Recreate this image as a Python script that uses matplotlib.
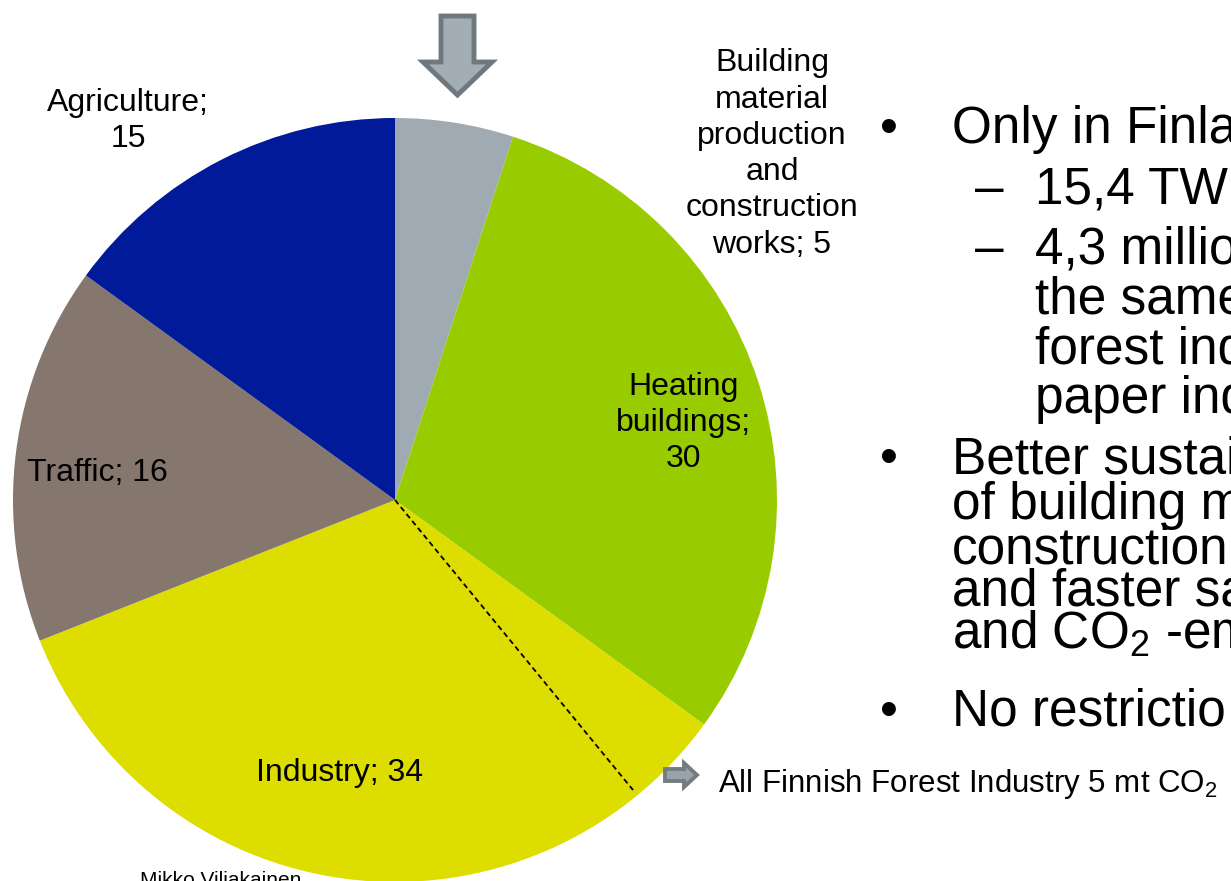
import numpy as np
import matplotlib
matplotlib.use("Agg")
import matplotlib.pyplot as plt
from matplotlib.patches import Polygon

plt.rcParams["font.family"] = ["Liberation Sans", "DejaVu Sans"]
plt.rcParams["mathtext.fontset"] = "custom"
plt.rcParams["mathtext.rm"] = "Liberation Sans"

W, H = 1231, 881

# CO2 emissions by sector (mt), clockwise from the top
sectors = ["Building\nmaterial\nproduction\nand\nconstruction\nworks", "Heating\nbuildings",
           "Industry", "Traffic", "Agriculture"]
values = [5, 30, 34, 16, 15]
colors = ["#A0AAB2", "#99CC00", "#DDDD00", "#85766E", "#001A99"]
label_sep = ["; ", ";\n", "; ", "; ", ";\n"]
label_xy = [(772, 154), (684, 423), (340, 773), (97, 473), (128, 121)]

# right-hand bullet text: (marker, text, baseline y, indent level)
bullets = [
    ("\u2022", "Only in Finla", 143, 0),
    ("\u2013", "15,4 TWh", 203, 1),
    ("\u2013", "4,3 millio", 263, 1),
    ("", "the same", 313, 1),
    ("", "forest ind", 363, 1),
    ("", "paper ind", 413, 1),
    ("\u2022", "Better sustai", 473, 0),
    ("", "of building m", 519, 0),
    ("", "construction", 563, 0),
    ("", "and faster sa", 606, 0),
    ("", "and CO$_\\mathregular{2}$ -em", 649, 0),
    ("\u2022", "No restrictio", 726, 0),
]


def Y(y):
    return H - y


fig = plt.figure(figsize=(W / 100, H / 100), dpi=100)
ax = fig.add_axes([0, 0, 1, 1])

cx, cy, r = 395, 500, 382
ax.pie(values, colors=colors, startangle=90, counterclock=False,
       center=(cx, Y(cy)), radius=r, wedgeprops=dict(linewidth=0))

for name, v, sep, (lx, ly) in zip(sectors, values, label_sep, label_xy):
    ax.text(lx, Y(ly), f"{name}{sep}{v}", ha="center", va="center",
            fontsize=23, linespacing=1.27, color="black")

# dashed split line through the industry slice
ax.plot([cx, 633], [Y(cy), Y(790)], ls=(0, (3, 2)), color="black", lw=1.3)

# down arrow above the pie
arrow_down = [(441, 16), (474, 16), (474, 62), (492, 62), (457.5, 95),
              (423, 62), (441, 62)]
ax.add_patch(Polygon([(x, Y(y)) for x, y in arrow_down], closed=True,
                     facecolor="#A3ADB4", edgecolor="#6F787E", lw=3.5,
                     joinstyle="miter"))

# small right arrow next to the forest industry note
arrow_right = [(665, 769), (684, 769), (684, 763), (697, 775), (684, 787),
               (684, 781), (665, 781)]
ax.add_patch(Polygon([(x, Y(y)) for x, y in arrow_right], closed=True,
                     facecolor="#9AA3A9", edgecolor="#747C82", lw=2.8,
                     joinstyle="miter"))
ax.text(718, Y(792), "All Finnish Forest Industry 5 mt CO$_\\mathregular{2}$",
        ha="left", va="baseline", fontsize=22.5)

for mark, txt, by, lvl in bullets:
    tx = 952 if lvl == 0 else 1035
    if mark == "\u2022":
        ax.text(880, Y(by), mark, ha="left", va="baseline", fontsize=37)
    elif mark:
        ax.text(975, Y(by), mark, ha="left", va="baseline", fontsize=37)
    ax.text(tx, Y(by), txt, ha="left", va="baseline", fontsize=37)

ax.text(140, Y(871), "Mikko Viljakainen", ha="left", va="top", fontsize=15)

ax.set_xlim(0, W)
ax.set_ylim(0, H)
ax.set_aspect("equal")
ax.axis("off")

fig.savefig("out.png", dpi=100)
